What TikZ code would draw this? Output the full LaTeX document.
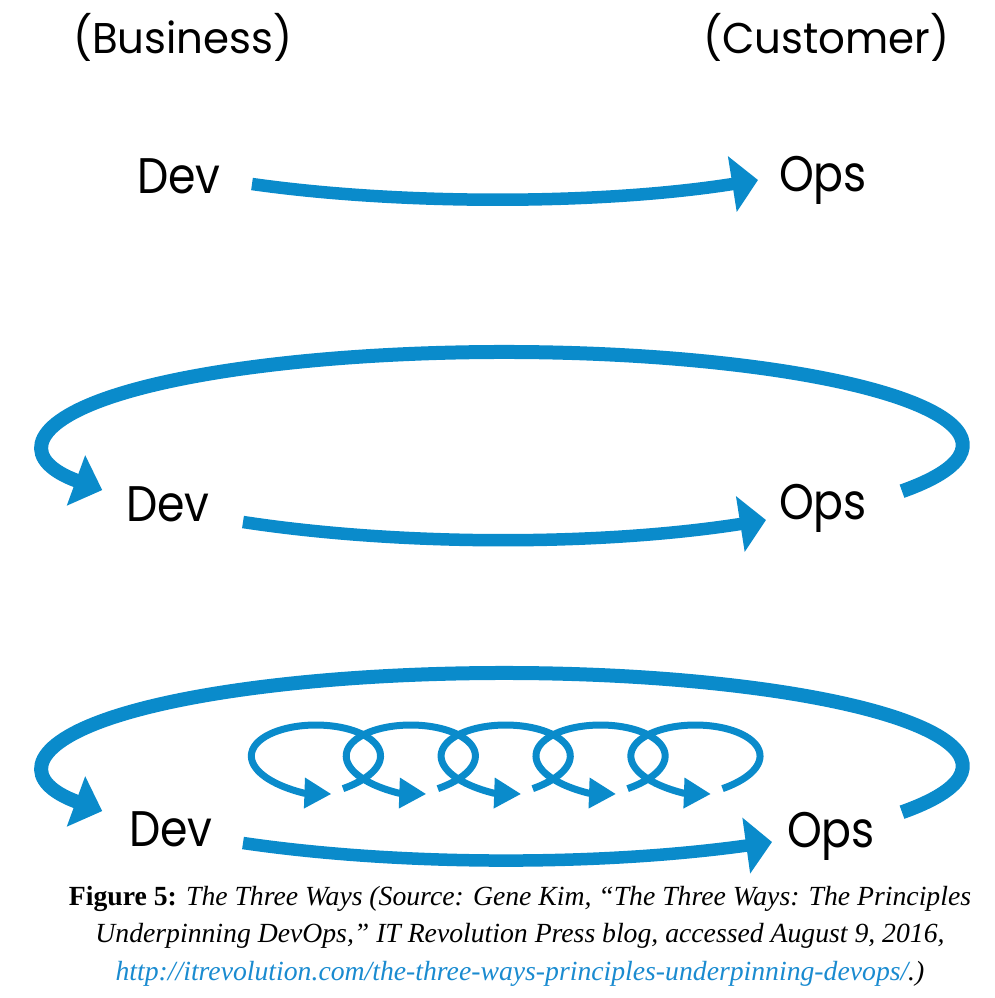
\documentclass[tikz,border=0pt]{standalone}
\usepackage{fontspec}
\setmainfont{Liberation Serif}
\newfontfamily\labelfont[FakeStretch=0.885]{Poppins}
\newfontfamily\headfont[FakeStretch=0.975]{Poppins}
\usetikzlibrary{arrows.meta}
\definecolor{flowblue}{HTML}{0A8BCB}
\definecolor{linkblue}{HTML}{1A8BD0}

\begin{document}
\begin{tikzpicture}[x=1pt, y=-1pt,
  lbl/.style={font=\labelfont\fontsize{50}{50}\selectfont, inner sep=0pt, anchor=base west},
  side/.style={font=\headfont\fontsize{43}{43}\selectfont, inner sep=0pt, anchor=base west},
  flow/.style={draw=flowblue, line width=12.5pt, -{Triangle[length=26pt,width=55pt]}},
  bigloop/.style={draw=flowblue, line width=14pt, -{Triangle[length=28pt,width=52pt]}},
  curl/.style={draw=flowblue, line width=7pt, -{Triangle[length=27pt,width=29pt]}},
  caption/.style={font=\fontsize{27.7}{27.7}\selectfont, inner sep=0pt, anchor=base}]
\useasboundingbox (0,0) rectangle (994,998);

% column headings
\node[side] (biz)  at (73,53)  {(Business)};
\node[side] (cust) at (703,53) {(Customer)};

% labels of the three rows
\node[lbl] (dev1) at (137,193) {Dev};
\node[lbl] (ops1) at (779,191) {Ops};
\node[lbl] (dev2) at (126,521) {Dev};
\node[lbl] (ops2) at (779,519) {Ops};
\node[lbl] (dev3) at (129,846) {Dev};
\node[lbl] (ops3) at (787,847) {Ops};

% first way: flow from Dev to Ops
\coordinate (r1s) at (252,184);
\coordinate (r1e) at (758,180);
\draw[flow] (r1s) .. controls (400,205) and (600,205) .. (r1e);

% second way: flow plus feedback loop
\coordinate (r2s) at (243,522);
\coordinate (r2e) at (766,520);
\draw[flow] (r2s) .. controls (400,546) and (600,546) .. (r2e);
\coordinate (l2s) at (902,491.2);
\draw[bigloop] (l2s) arc[start angle=29.8, end angle=-209, x radius=459, y radius=93];

% third way: flow, feedback loop and the coil of small loops
\coordinate (r3s) at (243,843);
\coordinate (r3e) at (772,842);
\draw[flow] (r3s) .. controls (400,866) and (600,866) .. (r3e);
\coordinate (l3s) at (902,812.2);
\draw[bigloop] (l3s) arc[start angle=29.8, end angle=-209, x radius=459, y radius=93];

\foreach \i in {1,...,5} {
  \pgfmathsetmacro\ts{2*pi*(\i-1)+0.8}
  \pgfmathsetmacro\te{2*pi*\i-0.62}
  \draw[curl] plot[domain=\ts:\te, samples=80, smooth]
    ({268.5+15.1*\x+87*sin(\x r)}, {762.5+37.5*cos(\x r)}) -- ++(28,1);
}

% caption
\node[caption] (cap1) at (520,905) {\textbf{Figure 5:} \textit{The Three Ways (Source: Gene Kim, “The Three Ways: The Principles}};
\node[caption] (cap2) at (520,942) {\textit{Underpinning DevOps,” IT Revolution Press blog, accessed August 9, 2016,}};
\node[caption] (cap3) at (520,980) {\textit{\textcolor{linkblue}{http://itrevolution.com/the-three-ways-principles-underpinning-devops/}.)}};
\end{tikzpicture}
\end{document}
